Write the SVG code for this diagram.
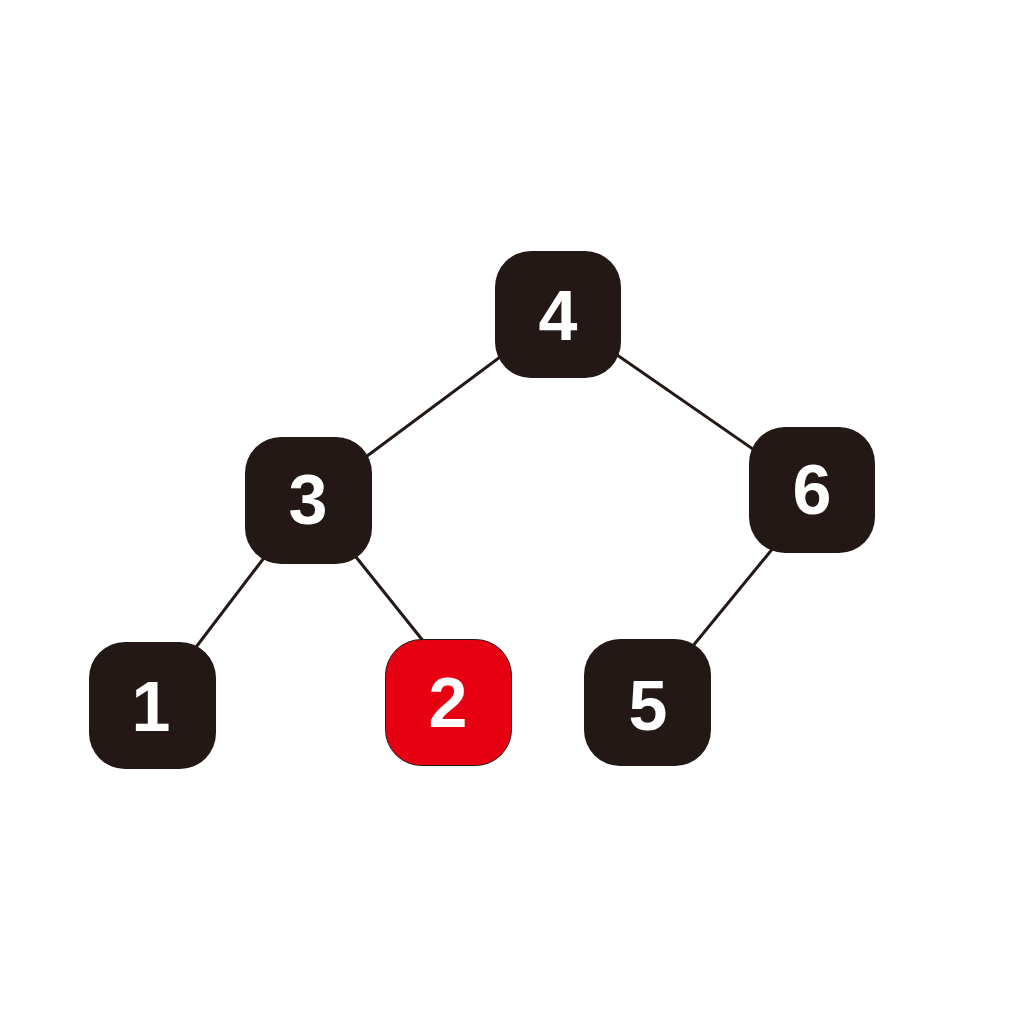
<svg xmlns="http://www.w3.org/2000/svg" width="1022" height="1021" viewBox="0 0 1022 1021">
<style>
.edge{stroke:#231815;stroke-width:3;fill:none}
.box{fill:#231815}
.red{fill:#e60012;stroke:#231815;stroke-width:1}
.lbl{fill:#fff;font-family:"Liberation Sans",Arial,sans-serif;font-weight:bold;font-size:70px;text-anchor:middle}
</style>
<rect width="1022" height="1021" fill="#fff"/>
<g id="connectors">
<line class="edge" x1="558" y1="314" x2="308" y2="500"/>
<line class="edge" x1="558" y1="314" x2="812" y2="490"/>
<line class="edge" x1="308" y1="500" x2="152" y2="705"/>
<line class="edge" x1="320" y1="512" x2="432" y2="652"/>
<line class="edge" x1="815" y1="497" x2="647" y2="702"/>
</g>
<g id="node4"><rect class="box" x="495" y="251" width="126" height="127" rx="36"/><text class="lbl" x="558" y="340">4</text></g>
<g id="node3"><rect class="box" x="245" y="437" width="127" height="127" rx="36"/><text class="lbl" x="308" y="524">3</text></g>
<g id="node6"><rect class="box" x="749" y="427" width="126" height="126" rx="36"/><text class="lbl" x="812" y="514">6</text></g>
<g id="node1"><rect class="box" x="89" y="642" width="127" height="127" rx="36"/><text class="lbl" x="151" y="731">1</text></g>
<g id="node2"><rect class="red" x="385.5" y="639.5" width="126" height="126" rx="36"/><text class="lbl" x="448" y="727">2</text></g>
<g id="node5"><rect class="box" x="584" y="639" width="127" height="127" rx="36"/><text class="lbl" x="648" y="730">5</text></g>
</svg>
